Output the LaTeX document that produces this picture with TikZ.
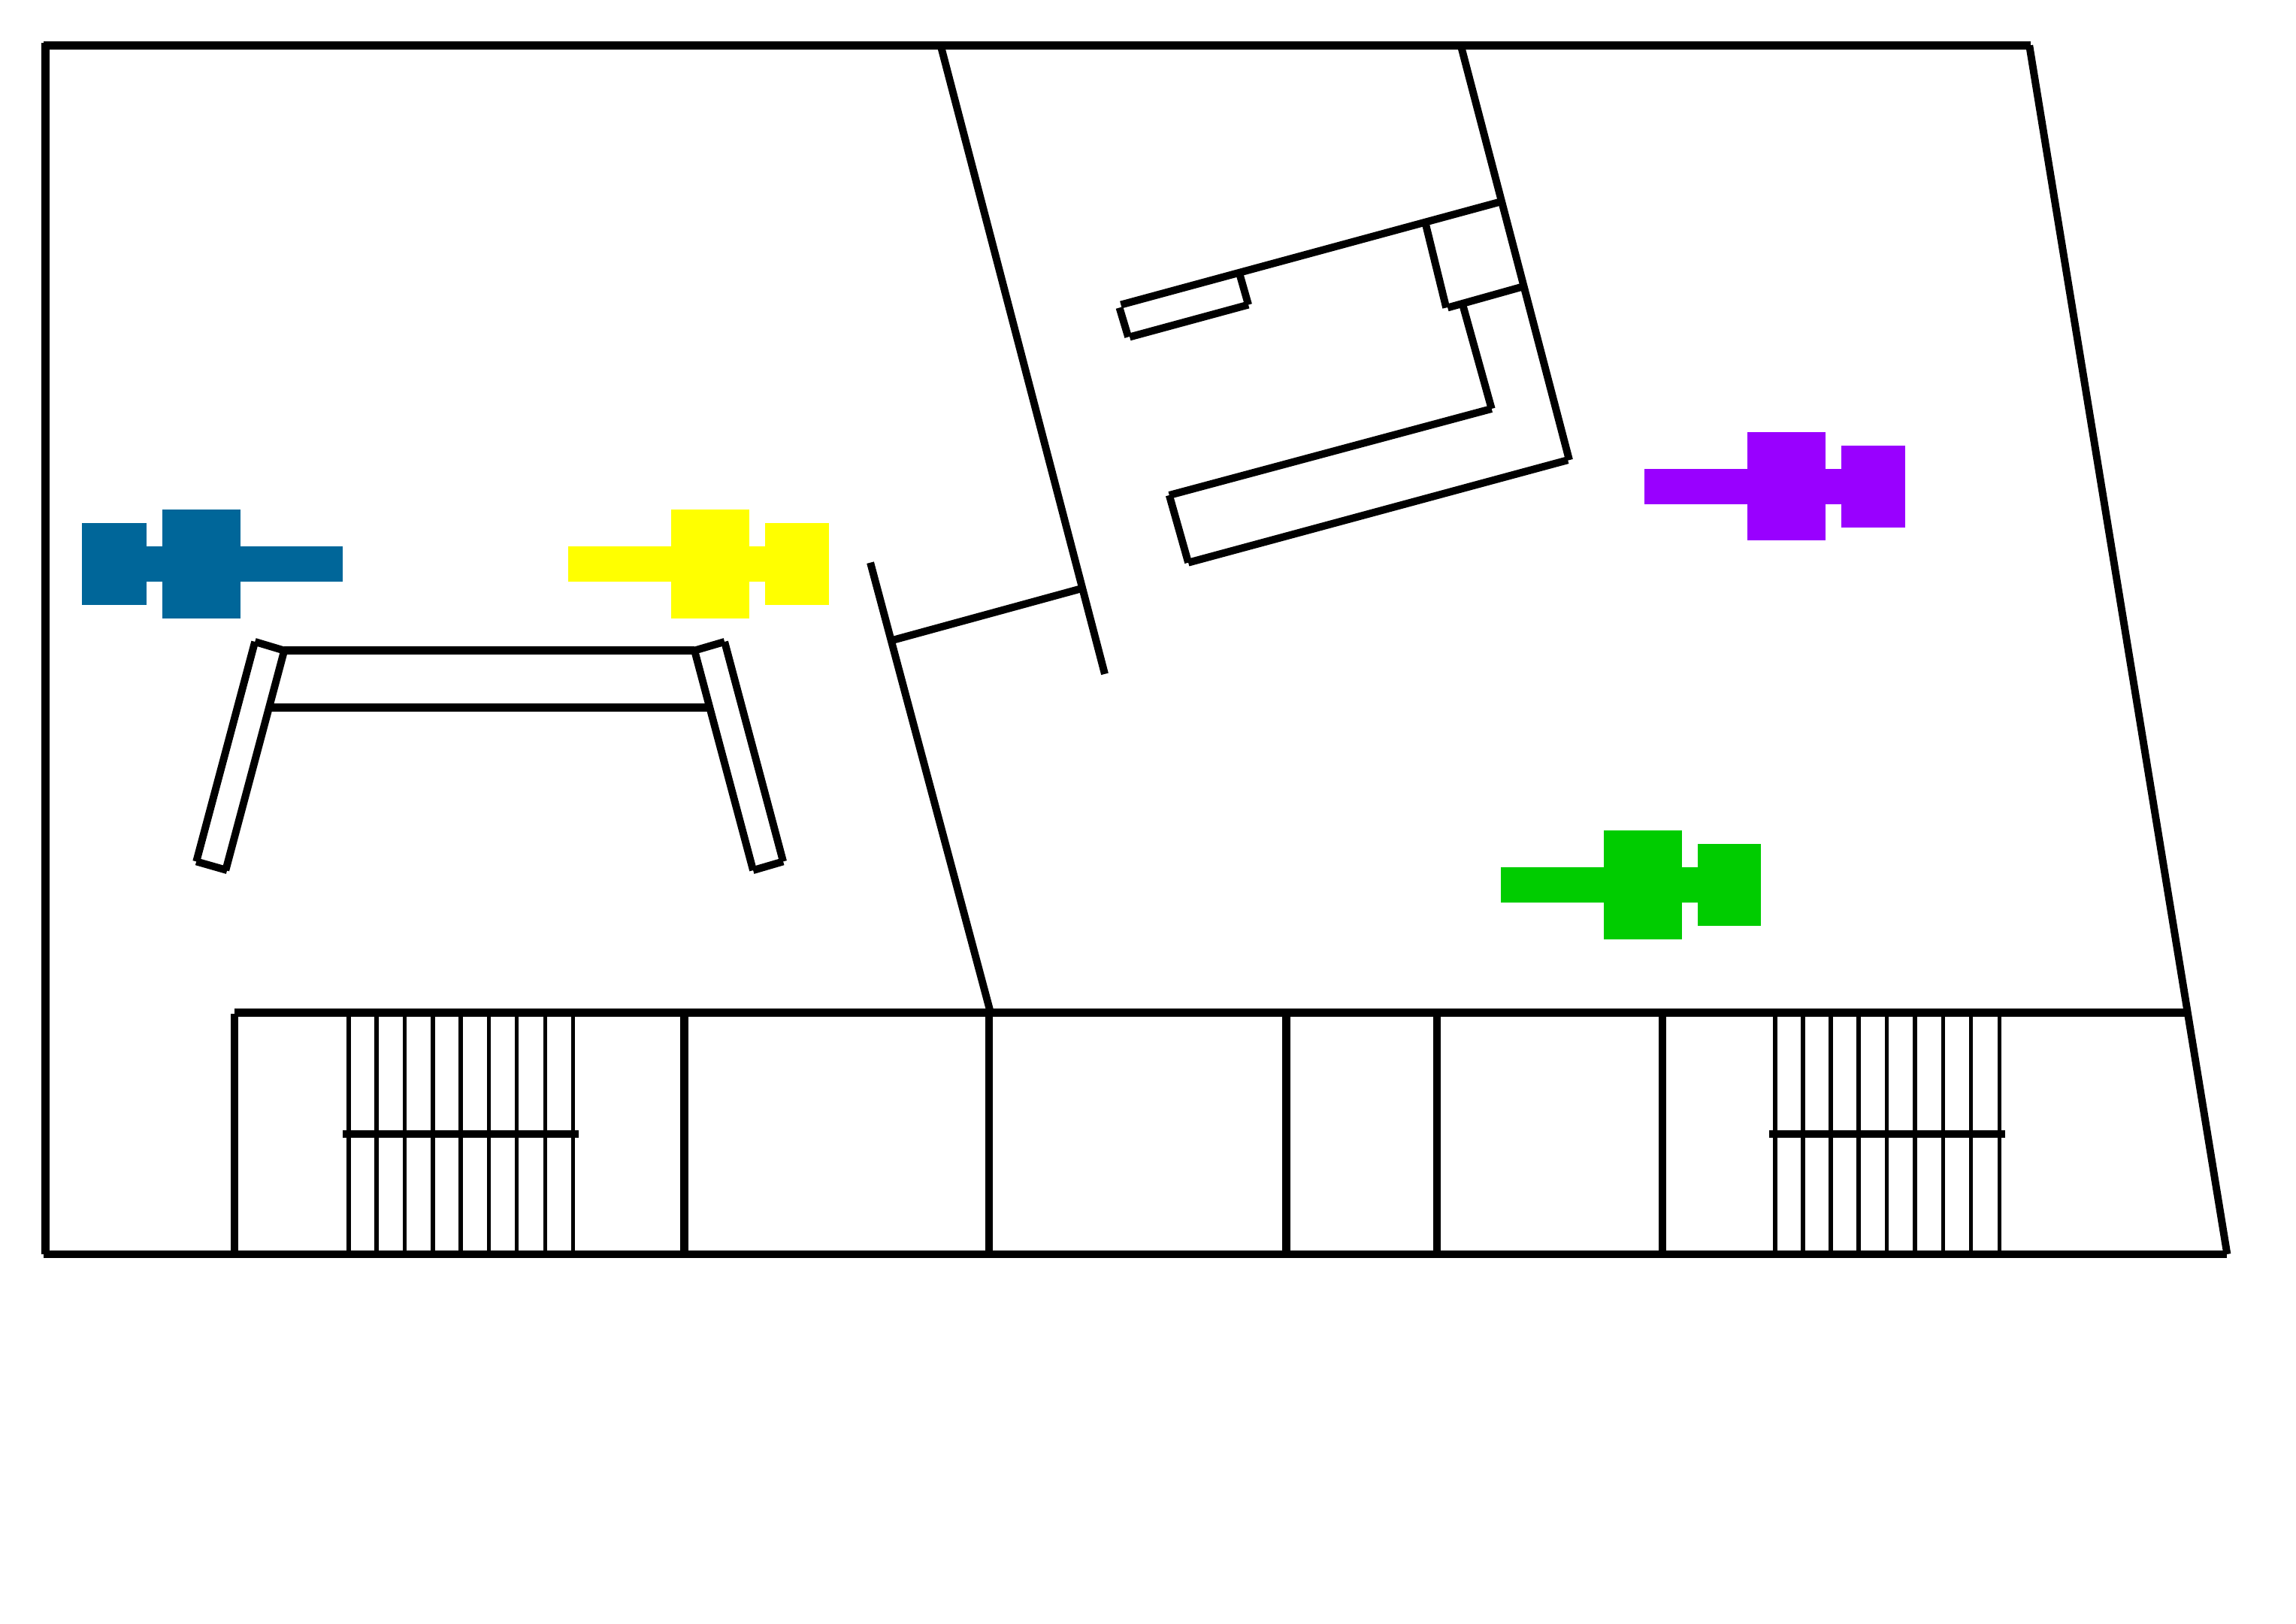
\documentclass[tikz,border=0pt]{standalone}
\definecolor{figblue}{HTML}{006699}
\definecolor{figyellow}{HTML}{FFFF00}
\definecolor{figpurple}{HTML}{9900FF}
\definecolor{figgreen}{HTML}{00CC00}
\tikzset{
  wall/.style={line width=1.55pt},
  slant/.style={line width=1.45pt},
  partition/.style={line width=1.55pt},
  tread/.style={line width=0.78pt},
}
\begin{document}
\begin{tikzpicture}[x=0.01cm,y=-0.01cm]
\useasboundingbox (0,0) rectangle (1567,1108);

% Outer walls
\draw[wall] (30,31) -- (1386,31);
\draw[wall] (31,29) -- (31,856);
\draw[wall] (30,856) -- (1520,856);
\draw[slant] (1385,31) -- (1520,856);

% Bottom band
\draw[wall] (160,691) -- (1492,691);
\foreach \x in {160,467,675,878,980.7,1134.6} {
  \draw[partition] (\x,692) -- (\x,856);
}

% Stairs
\foreach \x in {238,257,276.3,295.5,314.5,333.5,352.7,372,391} {
  \draw[tread] (\x,692) -- (\x,856);
}
\draw[wall] (234,774) -- (395,774);
\foreach \x in {1211.5,1230.5,1249.5,1268.5,1287.8,1307,1326,1345.2,1364.5} {
  \draw[tread] (\x,692) -- (\x,856);
}
\draw[wall] (1207.5,774) -- (1368.5,774);

% Slanted walls
\draw[slant] (642,31) -- (754,460);
\draw[slant] (594,384) -- (676,691);
\draw[slant] (609,437) -- (737,402);
\draw[slant] (997,31) -- (1071,314);

% Inner rooms
\draw[slant] (1070,314) -- (811,384);
\draw[slant] (798,338) -- (811,384);
\draw[slant] (798,338) -- (1018,279);
\draw[slant] (1018,279) -- (998,207);
\draw[slant] (988,210) -- (1038,196);
\draw[slant] (973,153) -- (987,210);
\draw[slant] (765,208) -- (1023,138);
\draw[slant] (846,187) -- (852,208);
\draw[slant] (771,230) -- (852,208);
\draw[slant] (764,210) -- (770,230);

% Table and benches
\draw[wall] (194,444) -- (474,444);
\draw[wall] (185,483) -- (483,483);
\draw[slant] (174,438) -- (134,588);
\draw[slant] (194,444) -- (154,594);
\draw[slant] (174,438) -- (194,444);
\draw[slant] (134,588) -- (155,594);
\draw[slant] (494.5,438) -- (534.5,588);
\draw[slant] (474,444) -- (514,594);
\draw[slant] (474,444) -- (494.5,438);
\draw[slant] (514,594) -- (534.5,588);

% Figures
\foreach \x/\y/\col in {388/373/figyellow,1122.5/320/figpurple,1024.5/592/figgreen} {
  \fill[\col] (\x,\y) rectangle ++(177.5,24);
  \fill[\col] (\x+70,\y-25) rectangle ++(53.5,74);
  \fill[\col] (\x+134,\y-16) rectangle ++(43.5,56);
}
\fill[figblue] (56,373) rectangle ++(178,24);
\fill[figblue] (111,348) rectangle ++(53,74);
\fill[figblue] (56,357) rectangle ++(44,56);

\end{tikzpicture}
\end{document}
